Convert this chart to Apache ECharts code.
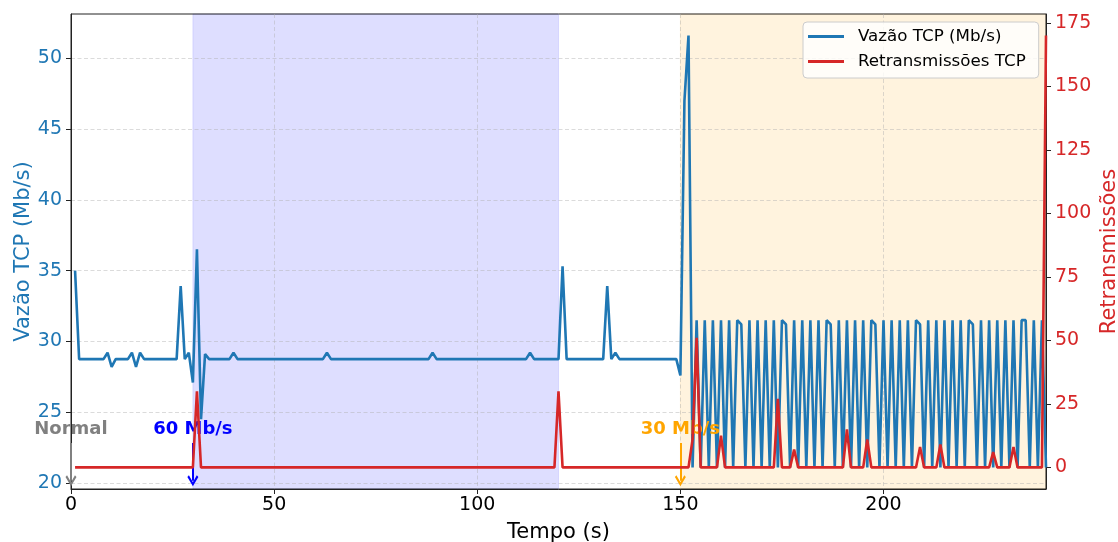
<!DOCTYPE html>
<html>
<head>
<meta charset="utf-8">
<script src="https://cdn.jsdelivr.net/npm/echarts@6/dist/echarts.min.js"></script>
<style>
  html, body { margin: 0; padding: 0; background: #ffffff; }
  #chart { width: 1118px; height: 542px; }
</style>
</head>
<body>
<div id="chart"></div>
<script>
// TCP throughput (Mb/s), one sample per second starting at t = 1 s
const throughput = [
  35.0, 28.75, 28.75, 28.75, 28.75, 28.75, 28.75, 28.75, 29.2, 28.2, 28.75, 28.75, 28.75, 28.75, 29.2, 28.2, 29.2, 28.75, 28.75, 28.75,
  28.75, 28.75, 28.75, 28.75, 28.75, 28.75, 33.9, 28.75, 29.2, 27.1, 36.5, 24.5, 29.1, 28.75, 28.75, 28.75, 28.75, 28.75, 28.75, 29.2,
  28.75, 28.75, 28.75, 28.75, 28.75, 28.75, 28.75, 28.75, 28.75, 28.75, 28.75, 28.75, 28.75, 28.75, 28.75, 28.75, 28.75, 28.75, 28.75, 28.75,
  28.75, 28.75, 29.2, 28.75, 28.75, 28.75, 28.75, 28.75, 28.75, 28.75, 28.75, 28.75, 28.75, 28.75, 28.75, 28.75, 28.75, 28.75, 28.75, 28.75,
  28.75, 28.75, 28.75, 28.75, 28.75, 28.75, 28.75, 28.75, 29.2, 28.75, 28.75, 28.75, 28.75, 28.75, 28.75, 28.75, 28.75, 28.75, 28.75, 28.75,
  28.75, 28.75, 28.75, 28.75, 28.75, 28.75, 28.75, 28.75, 28.75, 28.75, 28.75, 28.75, 29.2, 28.75, 28.75, 28.75, 28.75, 28.75, 28.75, 28.75,
  35.3, 28.75, 28.75, 28.75, 28.75, 28.75, 28.75, 28.75, 28.75, 28.75, 28.75, 33.9, 28.75, 29.2, 28.75, 28.75, 28.75, 28.75, 28.75, 28.75,
  28.75, 28.75, 28.75, 28.75, 28.75, 28.75, 28.75, 28.75, 28.75, 27.6, 47.0, 51.6, 21.1, 31.5, 21.1, 31.5, 21.1, 31.5, 21.1, 31.5,
  21.1, 31.5, 21.1, 31.5, 31.2, 21.1, 31.5, 21.1, 31.5, 21.1, 31.5, 21.1, 31.5, 21.1, 31.5, 31.2, 21.1, 31.5, 21.1, 31.5,
  21.1, 31.5, 21.1, 31.5, 21.1, 31.5, 31.2, 21.1, 31.5, 21.1, 31.5, 21.1, 31.5, 21.1, 31.5, 21.1, 31.5, 31.2, 21.1, 31.5,
  21.1, 31.5, 21.1, 31.5, 21.1, 31.5, 21.1, 31.5, 31.2, 21.1, 31.5, 21.1, 31.5, 21.1, 31.5, 21.1, 31.5, 21.1, 31.5, 21.1,
  31.5, 31.2, 21.1, 31.5, 21.1, 31.5, 21.1, 31.5, 21.1, 31.5, 21.1, 31.5, 21.1, 31.5, 31.5, 21.1, 31.5, 21.1, 31.5, 21.1
];

// TCP retransmissions per second, same time base
const retransmissions = [
  0, 0, 0, 0, 0, 0, 0, 0, 0, 0, 0, 0, 0, 0, 0, 0, 0, 0, 0, 0,
  0, 0, 0, 0, 0, 0, 0, 0, 0, 0, 30, 0, 0, 0, 0, 0, 0, 0, 0, 0,
  0, 0, 0, 0, 0, 0, 0, 0, 0, 0, 0, 0, 0, 0, 0, 0, 0, 0, 0, 0,
  0, 0, 0, 0, 0, 0, 0, 0, 0, 0, 0, 0, 0, 0, 0, 0, 0, 0, 0, 0,
  0, 0, 0, 0, 0, 0, 0, 0, 0, 0, 0, 0, 0, 0, 0, 0, 0, 0, 0, 0,
  0, 0, 0, 0, 0, 0, 0, 0, 0, 0, 0, 0, 0, 0, 0, 0, 0, 0, 0, 30,
  0, 0, 0, 0, 0, 0, 0, 0, 0, 0, 0, 0, 0, 0, 0, 0, 0, 0, 0, 0,
  0, 0, 0, 0, 0, 0, 0, 0, 0, 0, 0, 0, 11, 51, 0, 0, 0, 0, 0, 12.5,
  0, 0, 0, 0, 0, 0, 0, 0, 0, 0, 0, 0, 0, 27, 0, 0, 0, 7, 0, 0,
  0, 0, 0, 0, 0, 0, 0, 0, 0, 0, 15, 0, 0, 0, 0, 11, 0, 0, 0, 0,
  0, 0, 0, 0, 0, 0, 0, 0, 8, 0, 0, 0, 0, 9, 0, 0, 0, 0, 0, 0,
  0, 0, 0, 0, 0, 0, 6, 0, 0, 0, 0, 8, 0, 0, 0, 0, 0, 0, 0, 170
];

const firstSecond = 1;            // time of the first sample (s)
const timeRange = [0, 240];       // x-axis extent (s)
const xTicks = [0, 50, 100, 150, 200];
const leftTicks = [20, 25, 30, 35, 40, 45, 50];
const rightTicks = [0, 25, 50, 75, 100, 125, 150, 175];

// Bandwidth-limit phases shaded behind the curves
const phaseStart = [30, 150];
const phaseEnd = [120, 240];

// Event markers: time (s) and caption
const eventTimes = [0, 30, 150];
const eventLabels = ['Normal', '60 Mb/s', '30 Mb/s'];

const BLUE = '#1f77b4';
const RED = '#d62728';
const FONT = 'DejaVu Sans';
const phaseColors = ['rgba(0,0,255,0.13)', 'rgba(255,165,0,0.13)'];
const phaseBorders = ['rgba(0,0,255,0.10)', 'rgba(255,165,0,0.10)'];
const eventColors = ['gray', 'blue', 'orange'];

// matplotlib-like 5% padding around the data range
function padded(values) {
  const lo = Math.min(...values), hi = Math.max(...values);
  const m = (hi - lo) * 0.05;
  return [lo - m, hi + m];
}
const leftRange = padded(throughput);
const rightRange = padded(retransmissions);

const thrData = throughput.map((v, i) => [firstSecond + i, v]);
const retData = retransmissions.map((v, i) => [firstSecond + i, v]);

// open chevron arrow head, drawn pointing up (rotated along the line)
const chevron = 'path://M5,0 L10,7.2 L8.6,8.4 L5,3.2 L1.4,8.4 L0,7.2 Z';

// arrow shaft, in throughput-axis units
const arrowTop = 22.82;
const arrowEnd = 20.15;

const chart = echarts.init(document.getElementById('chart'), null, { renderer: 'canvas' });

chart.setOption({
  animation: false,
  backgroundColor: '#ffffff',
  textStyle: { fontFamily: FONT },
  grid: {
    left: 71, right: 72, top: 14, bottom: 53,
    containLabel: false,
    outerBoundsMode: 'none',
    show: true, borderColor: '#222', borderWidth: 1, backgroundColor: 'transparent'
  },
  legend: {
    left: 803, top: 22,
    orient: 'vertical',
    icon: 'rect',
    itemWidth: 36, itemHeight: 3,
    itemGap: 8,
    padding: [6, 13, 8, 5],
    backgroundColor: 'rgba(255,255,255,0.8)',
    borderColor: '#cccccc', borderWidth: 1, borderRadius: 4,
    textStyle: { fontFamily: FONT, fontSize: 16.7, color: '#000', padding: [0, 0, 0, 9] },
    data: ['Vazão TCP (Mb/s)', 'Retransmissões TCP']
  },
  xAxis: {
    type: 'value',
    min: timeRange[0], max: timeRange[1],
    name: 'Tempo (s)', nameLocation: 'middle', nameGap: 33, nameMoveOverlap: false,
    nameTextStyle: { fontFamily: FONT, fontSize: 21, color: '#000' },
    axisLine: { show: true, onZero: false, lineStyle: { color: '#222', width: 1 } },
    axisTick: { show: true, length: 5, customValues: xTicks, lineStyle: { color: '#222', width: 1 } },
    axisLabel: { fontFamily: FONT, fontSize: 19, color: '#000', margin: 7, customValues: xTicks },
    splitLine: { show: true, lineStyle: { color: 'rgba(176,176,176,0.45)', type: [4, 2.5], width: 1 } }
  },
  yAxis: [
    {
      type: 'value', position: 'left',
      min: leftRange[0], max: leftRange[1],
      name: 'Vazão TCP (Mb/s)', nameLocation: 'middle', nameGap: 37, nameMoveOverlap: false,
      nameTextStyle: { fontFamily: FONT, fontSize: 21, color: BLUE },
      axisLine: { show: true, onZero: false, lineStyle: { color: '#222', width: 1 } },
      axisTick: { show: true, length: 5, customValues: leftTicks, lineStyle: { color: '#222', width: 1 } },
      axisLabel: { fontFamily: FONT, fontSize: 19, color: BLUE, margin: 9, customValues: leftTicks },
      splitLine: { show: true, lineStyle: { color: 'rgba(176,176,176,0.45)', type: [4, 2.5], width: 1 } }
    },
    {
      type: 'value', position: 'right',
      min: rightRange[0], max: rightRange[1],
      name: 'Retransmissões', nameLocation: 'middle', nameGap: 53, nameMoveOverlap: false,
      nameTextStyle: { fontFamily: FONT, fontSize: 21, color: RED },
      axisLine: { show: true, onZero: false, lineStyle: { color: '#222', width: 1 } },
      axisTick: { show: true, length: 5, customValues: rightTicks, lineStyle: { color: '#222', width: 1 } },
      axisLabel: { fontFamily: FONT, fontSize: 19, color: RED, margin: 9, customValues: rightTicks },
      splitLine: { show: false }
    }
  ],
  series: [
    {
      name: 'Vazão TCP (Mb/s)',
      type: 'line',
      yAxisIndex: 0,
      data: thrData,
      showSymbol: false,
      clip: false,
      color: BLUE,
      lineStyle: { color: BLUE, width: 2.6 },
      z: 3,
      markArea: {
        silent: true,
        z: -1,
        data: phaseStart.map((s, i) => [
          { xAxis: s, itemStyle: { color: phaseColors[i], borderColor: phaseBorders[i], borderWidth: 1 } },
          { xAxis: phaseEnd[i] }
        ])
      },
      markLine: {
        silent: true,
        animation: false,
        symbol: ['none', chevron],
        symbolSize: [0, 11],
        z: 5,
        data: eventTimes.map((t, i) => [
          {
            coord: [t, arrowTop],
            symbol: 'none',
            lineStyle: { color: eventColors[i], width: 2, type: 'solid' },
            label: {
              show: true, position: 'start', distance: 5,
              formatter: eventLabels[i],
              color: eventColors[i], fontFamily: FONT, fontWeight: 'bold', fontSize: 18
            }
          },
          { coord: [t, arrowEnd], symbol: chevron, symbolSize: 11, itemStyle: { color: eventColors[i] } }
        ])
      }
    },
    {
      name: 'Retransmissões TCP',
      type: 'line',
      yAxisIndex: 1,
      data: retData,
      showSymbol: false,
      color: RED,
      lineStyle: { color: RED, width: 2.6 },
      z: 10
    }
  ]
});
</script>
</body>
</html>
